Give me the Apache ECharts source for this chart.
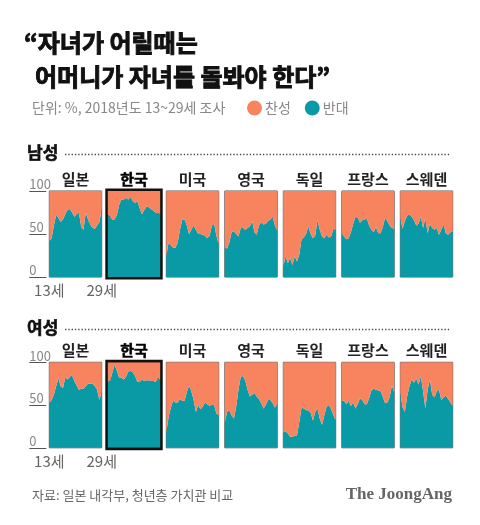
<!DOCTYPE html>
<html>
<head>
<meta charset="utf-8">
<script src="https://cdn.jsdelivr.net/npm/echarts@6/dist/echarts.min.js"></script>
<style>
  html, body { margin: 0; padding: 0; background: #fff; }
  #chart { width: 480px; height: 525px; }
</style>
</head>
<body>
<div id="chart"></div>
<script>
// 자녀가 어릴때는 어머니가 자녀를 돌봐야 한다 - 13~29세 (반대 비율, %)
var countries = ['일본', '한국', '미국', '영국', '독일', '프랑스', '스웨덴'];
var ageLabels = ['13세', '29세'];
var yTicks = ['0', '50', '100'];

// 남성 반대 비율
var menJapan = [42, 45, 60, 72, 69, 64, 67, 73, 78, 79, 75, 70, 73, 75, 58, 55, 75, 67, 61, 57, 56, 60, 64, 79];
var menKorea = [72, 70, 67, 67, 72, 84, 90, 90, 92, 90, 93, 88, 86, 88, 80, 73, 78, 82, 81, 79, 77, 75, 74, 73];
var menUS = [24, 40, 37, 34, 34, 40, 55, 67, 67, 60, 50, 55, 60, 55, 50, 50, 49, 48, 45, 48, 60, 62, 48, 38];
var menUK = [34, 33, 40, 52, 53, 50, 47, 57, 57, 55, 57, 59, 65, 52, 49, 60, 64, 61, 62, 65, 67, 70, 60, 54];
var menGermany = [12, 24, 16, 22, 14, 24, 18, 26, 44, 46, 50, 59, 50, 45, 48, 66, 55, 47, 45, 49, 46, 47, 56, 55];
var menFrance = [51, 47, 44, 45, 52, 62, 70, 69, 63, 66, 67, 68, 60, 55, 52, 58, 51, 51, 58, 69, 65, 60, 57, 56];
var menSweden = [69, 56, 65, 71, 73, 70, 66, 60, 62, 70, 57, 68, 51, 62, 57, 55, 57, 49, 55, 61, 51, 49, 52, 53];

// 여성 반대 비율
var womenJapan = [52, 56, 62, 72, 81, 72, 70, 82, 80, 83, 85, 78, 73, 68, 69, 69, 72, 75, 75, 75, 72, 68, 56, 66];
var womenKorea = [77, 78, 88, 97, 90, 82, 82, 80, 83, 89, 90, 88, 84, 77, 77, 80, 78, 79, 79, 78, 78, 77, 82, 78];
var womenUS = [18, 36, 47, 55, 53, 53, 57, 55, 55, 65, 73, 66, 56, 42, 50, 45, 48, 53, 51, 49, 51, 50, 40, 38];
var womenUK = [30, 42, 44, 38, 34, 48, 68, 83, 84, 78, 68, 60, 62, 64, 60, 57, 52, 46, 50, 56, 56, 52, 47, 51];
var womenGermany = [18, 19, 17, 13, 13, 14, 14, 30, 47, 46, 44, 44, 41, 32, 42, 46, 34, 27, 38, 48, 50, 45, 38, 32];
var womenFrance = [55, 55, 51, 55, 49, 53, 46, 51, 58, 56, 51, 51, 58, 67, 69, 68, 67, 66, 60, 52, 53, 59, 73, 65];
var womenSweden = [65, 47, 42, 60, 72, 80, 76, 81, 74, 84, 66, 46, 68, 80, 62, 59, 66, 68, 56, 59, 61, 57, 53, 49];

var menRows = [menJapan, menKorea, menUS, menUK, menGermany, menFrance, menSweden];
var womenRows = [womenJapan, womenKorea, womenUS, womenUK, womenGermany, womenFrance, womenSweden];

var COLOR_YES = '#f7835f';
var COLOR_NO = '#0a9aa5';
var FONT = '"Noto Sans CJK KR", "Noto Sans", sans-serif';

var chart = echarts.init(document.getElementById('chart'));

var grids = [], xAxes = [], yAxes = [], series = [], graphics = [];
var panelLeft = 49.3, panelStep = 58.5, panelWidth = 52.4;
var rows = [
    { name: '남성', data: menRows, top: 191, height: 86, labelY: 179, headY: 153 },
    { name: '여성', data: womenRows, top: 362.3, height: 85.5, labelY: 350, headY: 328 }
];

rows.forEach(function (row, r) {
    //섹션 제목 + 점선
    graphics.push({
        type: 'text', x: 27, y: row.headY,
        style: { text: row.name, font: 'bold 17px ' + FONT, fill: '#111', stroke: '#111', lineWidth: 0.6, verticalAlign: 'middle' }
    });
    graphics.push({
        type: 'line',
        shape: { x1: 65, y1: row.headY + 1.5, x2: 451, y2: row.headY + 1.5 },
        style: { stroke: '#444', lineWidth: 1.3, lineDash: [1.3, 2] }
    });

    countries.forEach(function (c, i) {
        var idx = r * 7 + i;
        var left = panelLeft + i * panelStep;
        var isKorea = c === '한국';
        var first = i === 0;
        var vals = row.data[i];
        var cats = vals.map(function (v, k) { return k; });

        graphics.push({
            type: 'text', x: left + panelWidth / 2, y: row.labelY,
            style: {
                text: c, font: 'bold 15px ' + FONT, fill: isKorea ? '#000' : '#222',
                stroke: isKorea ? '#000' : null, lineWidth: 0.5,
                align: 'center', verticalAlign: 'middle'
            }
        });

        grids.push({
            left: left, top: row.top, width: panelWidth, height: row.height,
            show: true, z: 3,
            backgroundColor: 'transparent',
            borderColor: isKorea ? '#111' : '#555',
            borderWidth: isKorea ? 5 : 1
        });
        xAxes.push({
            gridIndex: idx,
            type: 'category',
            boundaryGap: false,
            data: cats,
            axisLine: { show: false },
            axisTick: { show: false },
            splitLine: { show: false },
            axisLabel: {
                show: first,
                interval: function (k) { return k === 0 || k === cats.length - 1; },
                formatter: function (v, k) { return k === 0 ? ageLabels[0] : ageLabels[1]; },
                color: '#666',
                fontSize: 15,
                fontFamily: FONT,
                margin: 6
            }
        });
        yAxes.push({
            gridIndex: idx,
            type: 'value',
            min: 0,
            max: 100,
            interval: 50,
            offset: 3,
            axisLine: { show: false },
            splitLine: { show: false },
            axisTick: { show: first, length: 17, lineStyle: { color: '#555', width: 1 } },
            axisLabel: {
                show: first,
                align: 'left',
                verticalAlign: 'bottom',
                margin: 17,
                color: '#888',
                fontSize: 13,
                fontFamily: FONT,
                formatter: function (v) { return yTicks[v / 50]; }
            }
        });
        series.push({
            name: '반대',
            type: 'line',
            xAxisIndex: idx,
            yAxisIndex: idx,
            stack: 's' + idx,
            symbol: 'none',
            silent: true,
            lineStyle: { width: 0 },
            itemStyle: { color: COLOR_NO },
            areaStyle: { color: COLOR_NO, opacity: 1 },
            data: vals
        });
        series.push({
            name: '찬성',
            type: 'line',
            xAxisIndex: idx,
            yAxisIndex: idx,
            stack: 's' + idx,
            symbol: 'none',
            silent: true,
            lineStyle: { width: 0 },
            itemStyle: { color: COLOR_YES },
            areaStyle: { color: COLOR_YES, opacity: 1 },
            data: vals.map(function (v) { return 100 - v; })
        });
    });
});

//제목
graphics.push({
    type: 'text', x: 24, y: 43,
    style: { text: '“자녀가 어릴때는', font: 'bold 24px ' + FONT, fill: '#111', stroke: '#111', lineWidth: 0.9, verticalAlign: 'middle' }
});
graphics.push({
    type: 'text', x: 35, y: 77,
    style: { text: '어머니가 자녀를 돌봐야 한다”', font: 'bold 24px ' + FONT, fill: '#111', stroke: '#111', lineWidth: 0.9, verticalAlign: 'middle' }
});
graphics.push({
    type: 'text', x: 32, y: 108,
    style: { text: '단위: %, 2018년도 13~29세 조사', font: '14px ' + FONT, fill: '#888', verticalAlign: 'middle' }
});
//출처
graphics.push({
    type: 'text', x: 32, y: 495,
    style: { text: '자료: 일본 내각부, 청년층 가치관 비교', font: '13px ' + FONT, fill: '#666', verticalAlign: 'middle' }
});
graphics.push({
    type: 'text', x: 452, y: 495,
    style: { text: 'The JoongAng', font: 'bold 17px "Liberation Serif", "DejaVu Serif", serif', fill: '#666', align: 'right', verticalAlign: 'middle' }
});

chart.setOption({
    backgroundColor: '#fff',
    animation: false,
    legend: {
        data: ['찬성', '반대'],
        left: 247,
        top: 100.5,
        icon: 'circle',
        itemWidth: 15,
        itemHeight: 15,
        itemGap: 14,
        padding: 0,
        selectedMode: false,
        textStyle: { color: '#888', fontSize: 14, fontFamily: FONT, padding: [0, 0, 0, -2] }
    },
    grid: grids,
    xAxis: xAxes,
    yAxis: yAxes,
    series: series,
    graphic: graphics
});
</script>
</body>
</html>
